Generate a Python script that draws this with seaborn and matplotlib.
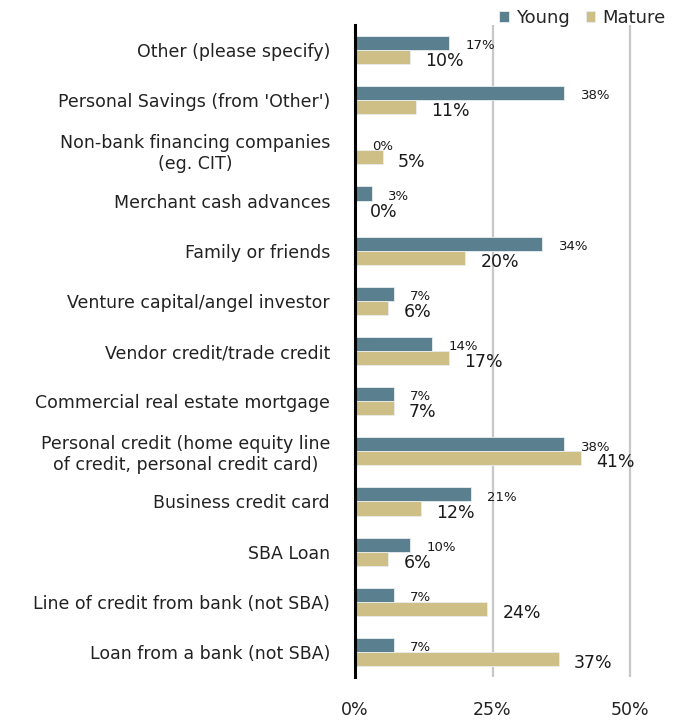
import matplotlib
matplotlib.use("Agg")
import matplotlib.pyplot as plt
import seaborn as sns
import pandas as pd

categories = [
    "Other (please specify)",
    "Personal Savings (from 'Other')",
    "Non-bank financing companies\n(eg. CIT)",
    "Merchant cash advances",
    "Family or friends",
    "Venture capital/angel investor",
    "Vendor credit/trade credit",
    "Commercial real estate mortgage",
    "Personal credit (home equity line\nof credit, personal credit card)",
    "Business credit card",
    "SBA Loan",
    "Line of credit from bank (not SBA)",
    "Loan from a bank (not SBA)",
]
young = [17, 38, 0, 3, 34, 7, 14, 7, 38, 21, 10, 7, 7]
mature = [10, 11, 5, 0, 20, 6, 17, 7, 41, 12, 6, 24, 37]
series = ["Young", "Mature"]
colors = {"Young": "#5A7F8E", "Mature": "#CDBF85"}
ticks = [0, 25, 50]
tick_labels = ["0%", "25%", "50%"]

df = pd.DataFrame({
    "source": categories * 2,
    "group": ["Young"] * len(categories) + ["Mature"] * len(categories),
    "pct": young + mature,
})

sns.set_style("white")
plt.rcParams["font.family"] = ["DejaVu Sans"]

fig = plt.figure(figsize=(6.86, 7.23), dpi=100)
ax = fig.add_axes([355 / 686, 1 - 677 / 723, 330 / 686, 652 / 723])

sns.barplot(data=df, y="source", x="pct", hue="group", hue_order=series,
            order=categories, palette=colors, saturation=1, orient="h",
            width=0.56, edgecolor="#E8EEF0", linewidth=0.6, legend=True, ax=ax)

ax.set_xlim(0, 60)
ax.set_ylim(len(categories) - 0.5, -0.5)
ax.set_xticks(ticks)
ax.set_xticklabels(tick_labels, fontsize=12.5, color="#222222")
ax.tick_params(axis="x", length=0, pad=17)
ax.tick_params(axis="y", length=0, pad=18, labelsize=12.5, labelcolor="#222222")
for lbl in ax.get_yticklabels():
    lbl.set_horizontalalignment("right")
    lbl.set_multialignment("center")
ax.set_xlabel("")
ax.set_ylabel("")

for x in ticks[1:]:
    ax.axvline(x, color="#C8C8C8", lw=1.6, zorder=0)

for side in ("top", "right", "bottom"):
    ax.spines[side].set_visible(False)
ax.spines["left"].set_color("black")
ax.spines["left"].set_linewidth(2.2)

# value labels: Young small, Mature larger, both set past the bar end
label_style = {
    "Young": dict(fontsize=9.5, dx=12, dy=-2),
    "Mature": dict(fontsize=12.5, dx=11, dy=-3),
}
for name, cont, vals in zip(series, ax.containers, [young, mature]):
    st = label_style[name]
    for bar, v in zip(cont, vals):
        yc = bar.get_y() + bar.get_height() / 2
        ax.annotate(f"{v}%", xy=(bar.get_width(), yc),
                    xytext=(st["dx"], st["dy"]), textcoords="offset points",
                    ha="left", va="center", fontsize=st["fontsize"],
                    color="#1a1a1a", annotation_clip=False)

handles, labels = ax.get_legend_handles_labels()
ax.legend_.remove()
fig.legend(handles, labels, loc="center right", bbox_to_anchor=(0.98, 1 - 18 / 723),
           ncol=2, frameon=False, fontsize=13, handlelength=0.55, handleheight=0.55,
           handletextpad=0.35, columnspacing=0.9, borderaxespad=0)

fig.savefig("out.png", dpi=100, facecolor="white")
